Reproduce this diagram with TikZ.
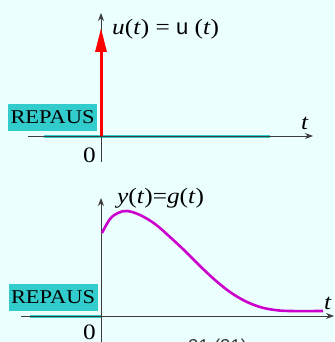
\documentclass[tikz,border=0pt]{standalone}
\usepackage{fontspec}
\setmainfont{Liberation Serif}[FakeStretch=1.15]
\setsansfont{Liberation Sans}
\usepackage{tikz}
\usetikzlibrary{arrows.meta}
\definecolor{ReposBg}{RGB}{235,255,255}
\definecolor{ReposCyan}{RGB}{51,204,204}
\definecolor{ReposRed}{RGB}{255,0,0}
\definecolor{ReposMagenta}{RGB}{204,0,204}
\definecolor{ReposAxis}{RGB}{60,60,60}

\begin{document}
\begin{tikzpicture}[
x=1pt, y=-1pt,
axis/.style={
draw=ReposAxis,
line width=0.9pt,
-{Stealth[length=8pt,width=6pt]}
},
repaus/.style={
fill=ReposCyan,
minimum width=89pt,
minimum height=27pt,
inner sep=0pt,
font=\fontsize{19.5}{24}\selectfont
},
rest/.style={
draw=ReposCyan,
line width=3pt
},
lbl/.style={
anchor=base,
inner sep=0pt,
font=\fontsize{22}{26}\selectfont
}
]
\useasboundingbox (0,0) rectangle (334,342);
\fill[ReposBg] (0,0) rectangle (334,342);

% input u(t)
\coordinate (ua) at (28,136);
\coordinate (ub) at (313,136);
\coordinate (uc) at (101,162);
\coordinate (ud) at (101,13);
\draw[rest] (44,136) -- (270,136);
\draw[axis] (ua) -- (ub);
\draw[axis] (uc) -- (ud);
\coordinate (sa) at (101,136);
\coordinate (sb) at (101,28);
\draw[ReposRed, line width=3pt, -{Triangle[length=24pt,width=11pt]}] (sa) -- (sb);

\node[repaus] (r1) at (52.5,117.5) {REPAUS};
\node[lbl] (t1) at (305,129) {\textit{t}};
\node[lbl] (z1) at (89.5,162) {0};
\node[lbl, anchor=base west] (u1) at (112,35)
{\textit{u}(\textit{t}) = \textsf{u} (\textit{t})};

% response y(t)
\coordinate (ya) at (21,316);
\coordinate (yb) at (334,316);
\coordinate (yc) at (101,342);
\coordinate (yd) at (101,198);
\draw[rest] (30,316) -- (101,316);
\draw[axis] (ya) -- (yb);
\draw[axis] (yc) -- (yd);
\draw[ReposMagenta, line width=2.6pt] plot[smooth, tension=0.6] coordinates {
(102,233) (110,219) (118,213) (127,211) (140,215) (155,224)
(170,237) (185,251) (200,266) (215,280) (230,292) (245,301)
(260,307) (275,310) (290,311) (323,311)};

\node[repaus] (r2) at (53,297) {REPAUS};
\node[lbl] (t2) at (328,309) {\textit{t}};
\node[lbl] (z2) at (89.5,339.5) {0};
\node[lbl, anchor=base west] (y1) at (117,203)
{\textit{y}(\textit{t})=\textit{g}(\textit{t})};
\node[anchor=base west, inner sep=0pt, text=ReposAxis,
font=\sffamily\fontsize{18.6}{22}\selectfont] (p1) at (188,352) {21 (21)};
\end{tikzpicture}
\end{document}
